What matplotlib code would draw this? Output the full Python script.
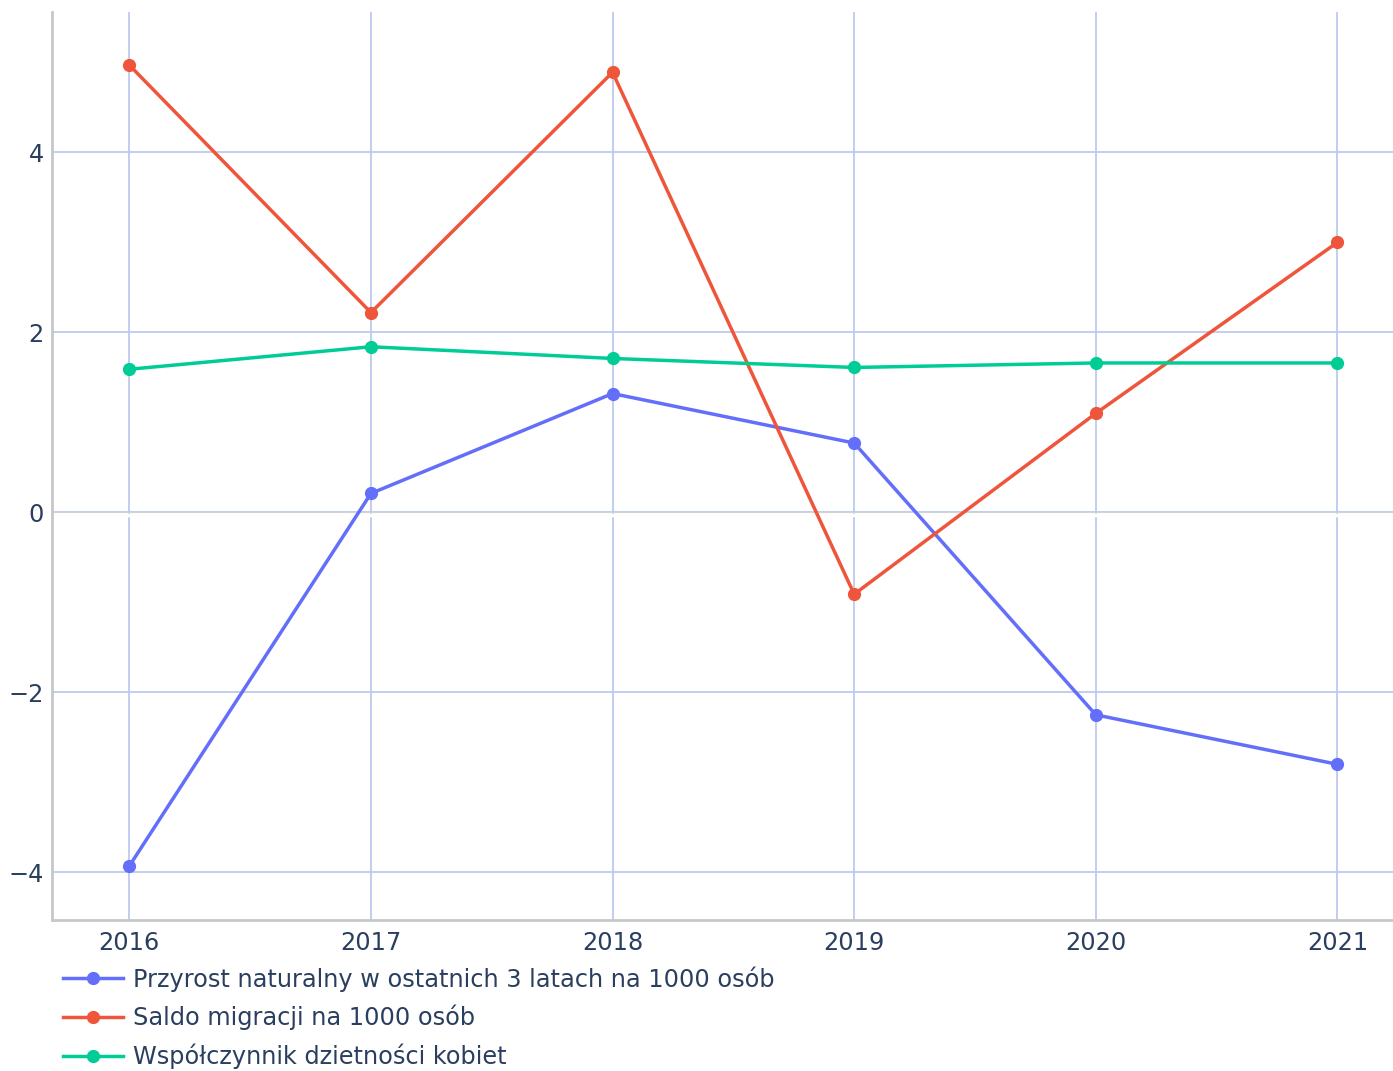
import matplotlib
matplotlib.use('Agg')
import matplotlib.pyplot as plt

# dane
lata = [2016, 2017, 2018, 2019, 2020, 2021]
przyrost = [-3.93, 0.21, 1.32, 0.77, -2.25, -2.80]
saldo = [4.97, 2.22, 4.89, -0.91, 1.10, 3.00]
dzietnosc = [1.59, 1.84, 1.71, 1.61, 1.66, 1.66]
etykiety = ["Przyrost naturalny w ostatnich 3 latach na 1000 osób",
            "Saldo migracji na 1000 osób",
            "Współczynnik dzietności kobiet"]
kolory = ['#636efa', '#ef553b', '#00cc96']

tekst = '#2a3f5f'
plt.rcParams['font.family'] = ['DejaVu Sans']

fig = plt.figure(figsize=(13.93, 10.71), dpi=100)
ax = fig.add_axes([52 / 1393, 1 - 920 / 1071, 1 - 52 / 1393, (920 - 12) / 1071])

for serie, kolor, nazwa in zip([przyrost, saldo, dzietnosc], kolory, etykiety):
    ax.plot(lata, serie, color=kolor, lw=2.5, marker='o', markersize=8.5,
            label=nazwa, zorder=3)

ax.set_xlim(2015.68, 2021.23)
ax.set_ylim(-4.53, 5.56)
ax.set_xticks(lata)
ax.set_yticks([-4, -2, 0, 2, 4])
ax.grid(True, color='#bccaf0', lw=1.3, zorder=0)
ax.set_axisbelow(True)

# linia zera
ax.axhline(-0.03, color='white', lw=2.5, zorder=1)
ax.axhline(0, color='#d3d3d3', lw=0.8, zorder=1)

for s in ['top', 'right']:
    ax.spines[s].set_visible(False)
for s in ['left', 'bottom']:
    ax.spines[s].set_color('#c8c8c8')
    ax.spines[s].set_linewidth(2)

ax.tick_params(length=0, labelsize=17.3, labelcolor=tekst)
ax.tick_params(axis='x', pad=8)
ax.tick_params(axis='y', pad=6)

leg = fig.legend(loc='upper left', bbox_to_anchor=(63 / 1393, 1 - 966 / 1071),
                 frameon=False, fontsize=17.3, handlelength=2.5, handletextpad=0.42,
                 labelspacing=0.55, borderpad=0, borderaxespad=0)
for t in leg.get_texts():
    t.set_color(tekst)

plt.savefig('out.png', dpi=100)
plt.close()
